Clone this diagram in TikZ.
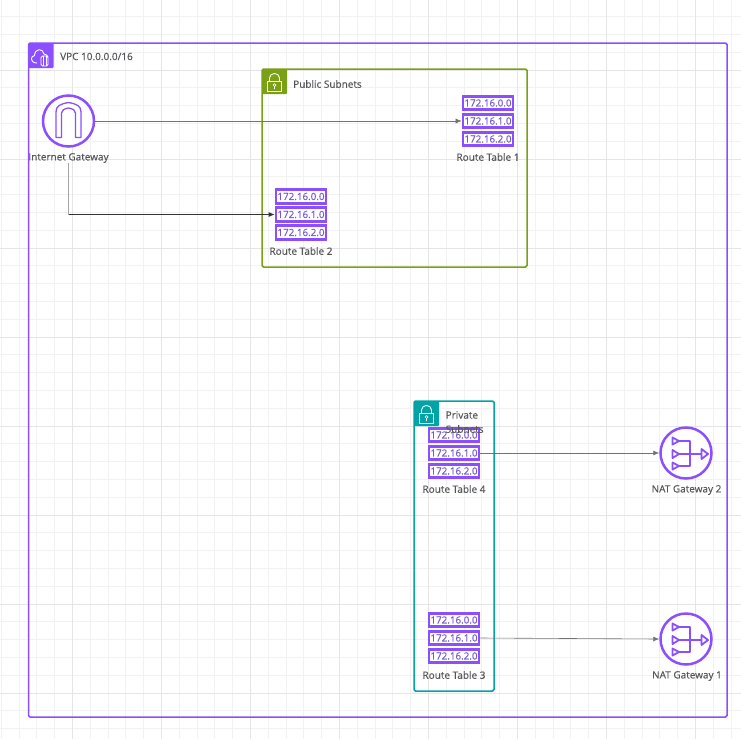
\documentclass[tikz,border=0pt]{standalone}
\usepackage{fontspec}
\setmainfont{Open Sans}
\newfontfamily\lblfont[FakeBold=0.3]{Open Sans}
\definecolor{awsp}{HTML}{8C4FFF}
\definecolor{awsg}{HTML}{7AA116}
\definecolor{awst}{HTML}{00A4A6}
\definecolor{lbl}{HTML}{55555A}
\definecolor{rowt}{HTML}{7358D0}
\tikzset{
  gridminor/.style={draw=black!5,line width=0.8pt},
  gridmajor/.style={draw=black!10,line width=0.9pt},
  groupbox/.style={draw=#1,line width=1.5pt,rounded corners=1.5pt},
  headbox/.style={fill=#1,draw=none,minimum size=25pt,inner sep=0pt,outer sep=0pt,rounded corners=1pt},
  glyph/.style={draw=white,line width=0.9pt,line join=round},
  lab/.style={text=lbl,font=\lblfont\fontsize{10}{11}\selectfont,inner sep=0pt},
  rowbox/.style={draw=awsp,line width=2.7pt,fill=white,minimum width=50pt,minimum height=13.6pt,inner sep=0pt,text=rowt,font=\lblfont\fontsize{9.8}{11}\selectfont},
  iconring/.style={draw=awsp,line width=2.5pt,fill=white,circle,minimum size=51pt,inner sep=0pt},
  iconline/.style={draw=awsp,line width=1.8pt,line join=round},
  conn/.style={draw=black!55,line width=0.6pt,-{Latex[length=6pt,width=5pt]}},
}
\usetikzlibrary{arrows.meta}
\newcommand{\routetable}[5]{%
  \node[rowbox] (#1a) at (#2,#3-18) {172.16.0.0};
  \node[rowbox] (#1b) at (#2,#3) {172.16.1.0};
  \node[rowbox] (#1c) at (#2,#3+18) {172.16.2.0};
  \node[lab] (#1l) at (#2,#4) {#5};
}
\newcommand{\lockglyph}[2]{%
  \begin{scope}[shift={(#1,#2)}]
    \draw[glyph] (-7,0) rectangle (7,9.5);
    \draw[glyph] (-5,0) -- (-5,-3.5) .. controls (-5,-9.5) and (5,-9.5) .. (5,-3.5) -- (5,0);
    \draw[glyph,line width=0.7pt] (0,3.5) circle (1.5) (0,5) -- (0,7.5);
  \end{scope}
}
\newcommand{\natglyph}[2]{%
  \begin{scope}[shift={(#1,#2)}]
    \draw[iconline] (-13.5,-15.5) -- (-7,-12) -- (-13.5,-8.5) -- cycle;
    \draw[iconline] (-13.5,-3) -- (-7,1) -- (-13.5,5) -- cycle;
    \draw[iconline] (-13.5,9.5) -- (-7,13) -- (-13.5,16.5) -- cycle;
    \draw[iconline] (-7,-12) -- (4,-12) -- (4,13) -- (-7,13);
    \draw[iconline] (-7,1) -- (15,1);
    \draw[iconline] (15.5,-4) -- (22,1) -- (15.5,6) -- cycle;
  \end{scope}
}
\begin{document}
\begin{tikzpicture}[x=1pt,y=-1pt]
\useasboundingbox (0,0) rectangle (741,739);
\fill[white] (0,0) rectangle (741,739);
% grid
\foreach \k in {0,...,41}{
  \draw[gridminor] ({1.2+17.8*\k},0) -- ({1.2+17.8*\k},739);
  \draw[gridminor] (0,{-1.2+17.8*\k}) -- (741,{-1.2+17.8*\k});
}
\foreach \k in {0,...,8}{
  \draw[gridmajor] ({72+89*\k},0) -- ({72+89*\k},739);
  \draw[gridmajor] (0,{70+89*\k}) -- (741,{70+89*\k});
}
% groups
\draw[groupbox=awsp] (28.5,43) rectangle (727,717);
\node[headbox=awsp,anchor=north west] (vpchead) at (28.5,43) {};
\node[lab,anchor=west] (vpclabel) at (60,56.5) {VPC 10.0.0.0/16};
\begin{scope}[shift={(40,57)}]
  \draw[glyph] (-3,6) .. controls (-10,6) and (-10,-1) .. (-5.5,-1.5) .. controls (-5,-9) and (3,-9) .. (4,-3) .. controls (6,-3) and (8,-1) .. (8,0);
  \draw[glyph,fill=awsp,rounded corners=1.5pt] (1,-1) rectangle (8,9);
  \draw[glyph,line width=0.5pt] (3.2,-1) -- (3.2,9) (5.8,-1) -- (5.8,9);
\end{scope}

\draw[groupbox=awsg] (262,69) rectangle (527,267);
\node[headbox=awsg,anchor=north west] (pubhead) at (262,69) {};
\lockglyph{274.5}{81.5}
\node[lab,anchor=west] (publabel) at (293,84) {Public Subnets};

\draw[groupbox=awst] (414,401) rectangle (494,691);
\node[headbox=awst,anchor=north west] (privhead) at (414,401) {};
\lockglyph{426.5}{413.5}

% icons
\node[iconring] (igw) at (68.5,121) {};
\draw[iconline,line width=1.3pt] (56,137.5) -- (56,112) .. controls (56,106) and (60,104) .. (68.5,102.5) .. controls (77,104) and (81,106) .. (81,112) -- (81,137.5) -- (75.5,137.5) -- (75.5,113) .. controls (75.5,110) and (73,109) .. (68.5,108) .. controls (64,109) and (61.5,110) .. (61.5,113) -- (61.5,137.5) -- cycle;
\node[lab] (igwl) at (68.5,158) {Internet Gateway};

\node[iconring] (nat2) at (686,453) {};
\natglyph{686}{453}
\node[lab] (nat2l) at (686.5,490) {NAT Gateway 2};
\node[iconring] (nat1) at (686,639) {};
\natglyph{686}{639}
\node[lab] (nat1l) at (687,676) {NAT Gateway 1};

% route tables
\routetable{ra}{488}{121}{157}{Route Table 1}
\routetable{rb}{301}{214.5}{251}{Route Table 2}
\routetable{rd}{454}{453}{489}{Route Table 4}
\routetable{rc}{454}{638}{675}{Route Table 3}

\node[lab,anchor=west] (privl1) at (445.5,415) {Private};
\node[lab,anchor=west] (privl2) at (445.5,429) {Subnets};

% connectors
\coordinate (bend) at (igwl.south |- rbb.west);
\draw[conn] (igw.east) -- (rab.west);
\draw[draw=black!35,line width=0.7pt] (igwl.south) -- (bend);
\draw[draw=black!80,line width=0.8pt,-{Latex[length=6pt,width=5pt]}] (bend) -- (rbb.west);
\draw[conn] (rdb.east) -- (nat2.west);
\draw[conn] (rcb.east) -- (nat1.west);
\end{tikzpicture}
\end{document}
